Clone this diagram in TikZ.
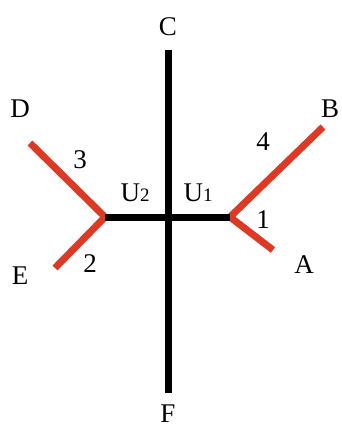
\documentclass[tikz,border=0pt]{standalone}
\usepackage{fontspec}
\setmainfont{Liberation Serif}
\definecolor{branchred}{RGB}{221,58,38}

\begin{document}
\begin{tikzpicture}[x=1pt,y=-1pt]
    \useasboundingbox (0,0) rectangle (341,430);
    \tikzset{
        lbl/.style={inner sep=0pt,font=\fontsize{27}{32}\selectfont},
        inner/.style={line width=7pt,black},
        outer/.style={line width=7pt,branchred,line join=miter}
    }

    % internal vertices and leaf ends
    \coordinate (u1) at (230,217);
    \coordinate (u2) at (105,217);
    \coordinate (c) at (168,50);
    \coordinate (f) at (168,393);
    \coordinate (a) at (273,250);
    \coordinate (b) at (323,127);
    \coordinate (d) at (30,143);
    \coordinate (e) at (55,268);

    \draw[outer] (b)--(u1)--(a);
    \draw[outer] (d)--(u2)--(e);
    \draw[inner] (c)--(f);
    \draw[inner] (u2)--(u1);

    % leaf labels
    \node[lbl] (lc) at (168,27) {C};
    \node[lbl] (lf) at (168,414) {F};
    \node[lbl] (ld) at (20,109) {D};
    \node[lbl] (le) at (20,276) {E};
    \node[lbl] (lb) at (330,109) {B};
    \node[lbl] (la) at (304,265) {A};

    % branch lengths
    \node[lbl] (n1) at (263,220) {1};
    \node[lbl] (n2) at (90,264) {2};
    \node[lbl] (n3) at (80,160) {3};
    \node[lbl] (n4) at (263,142) {4};

    % vertex labels
    \node[lbl] (lu2) at (135,193) {U{\fontsize{19}{22}\selectfont 2}};
    \node[lbl] (lu1) at (198,193) {U{\fontsize{19}{22}\selectfont 1}};
\end{tikzpicture}
\end{document}
